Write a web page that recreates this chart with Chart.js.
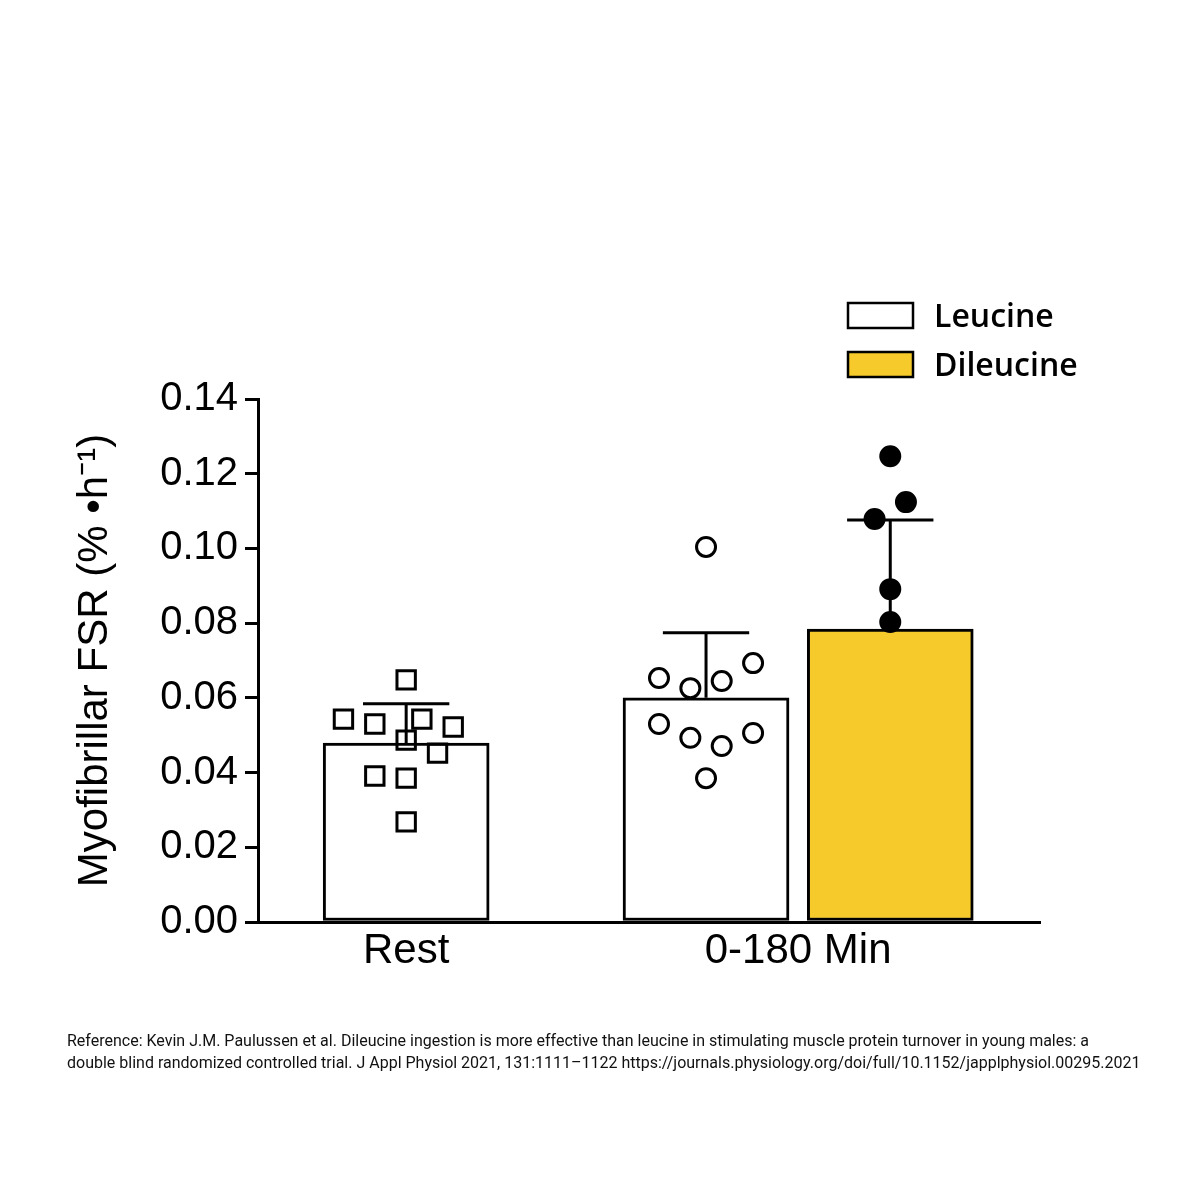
<!DOCTYPE html>
<html>
<head>
<meta charset="utf-8">
<script src="https://cdn.jsdelivr.net/npm/chart.js@4.4.0/dist/chart.umd.min.js"></script>
<style>
  body { margin: 0; background: #fff; }
  #wrap { position: relative; width: 1200px; height: 1200px; }
  #ref {
    position: absolute; left: 67px; top: 1030px;
    font: 16px Roboto, sans-serif; line-height: 22px; color: #111;
    white-space: nowrap;
  }
</style>
</head>
<body>
<div id="wrap">
  <canvas id="fsr-chart" width="1200" height="1200"></canvas>
  <div id="ref">Reference: Kevin J.M. Paulussen et al. Dileucine ingestion is more effective than leucine in stimulating muscle protein turnover in young males: a<br>double blind randomized controlled trial. J Appl Physiol 2021, 131:1111–1122 https://journals.physiology.org/doi/full/10.1152/japplphysiol.00295.2021</div>
</div>
<script>
const categories = ["Rest", "0-180 Min"];
const leucineMean = [0.0479, 0.0600];
const leucineSD = [0.0105, 0.0174];
const dileucineMean = [null, 0.0784];
const dileucineSD = [null, 0.0292];

// individual subjects (jitter in category units)
const restLeucine = [0.0648, 0.0543, 0.0530, 0.0543, 0.0522, 0.0487, 0.0452, 0.0391, 0.0385, 0.0268];
const restLeucineJitter = [0, -0.16, -0.08, 0.04, 0.12, 0, 0.08, -0.08, 0, 0];
const postLeucine = [0.1004, 0.0653, 0.0626, 0.0645, 0.0693, 0.0530, 0.0493, 0.0471, 0.0506, 0.0385];
const postLeucineJitter = [0, -0.12, -0.04, 0.04, 0.12, -0.12, -0.04, 0.04, 0.12, 0];
const postDileucine = [0.1247, 0.1124, 0.1079, 0.0891, 0.0803];
const postDileucineJitter = [0, 0.04, -0.04, 0, 0];

const YELLOW = "#F6CA2A";
const DODGE = 0.235;
const AXIS_FONT = "'Liberation Sans', Arial, sans-serif";

let leucineBars = [], leucineErr = [];
let dileucineBars = [], dileucineErr = [];
categories.forEach((c, i) => {
    let hasDi = dileucineMean[i] != null;
    leucineBars.push({x: i + 1 + (hasDi ? -DODGE : 0), y: leucineMean[i]});
    leucineErr.push(leucineSD[i]);
    if (hasDi) {
        dileucineBars.push({x: i + 1 + DODGE, y: dileucineMean[i]});
        dileucineErr.push(dileucineSD[i]);
    }
});

let errorBars = {
    id: "errorBars",
    afterDatasetDraw(chart, args) {
        let ds = chart.data.datasets[args.index];
        if (!ds.sd) return;
        let ctx = chart.ctx, yScale = chart.scales.y;
        ctx.save();
        ctx.strokeStyle = "#000";
        ctx.lineWidth = 3;
        args.meta.data.forEach((bar, k) => {
            let top = yScale.getPixelForValue(ds.data[k].y + ds.sd[k]);
            let half = bar.width * 0.26;
            ctx.beginPath();
            ctx.moveTo(bar.x, bar.y);
            ctx.lineTo(bar.x, top);
            ctx.moveTo(bar.x - half, top);
            ctx.lineTo(bar.x + half, top);
            ctx.stroke();
        });
        ctx.restore();
    }
};

let legendItems = [
    {label: "Leucine", color: "#fff"},
    {label: "Dileucine", color: YELLOW},
];

let boxLegend = {
    id: "boxLegend",
    afterDraw(chart) {
        let ctx = chart.ctx;
        ctx.save();
        legendItems.forEach((item, k) => {
            let top = 303 + k * 49;
            ctx.fillStyle = item.color;
            ctx.fillRect(848, top, 65, 25);
            ctx.strokeStyle = "#000";
            ctx.lineWidth = 2.5;
            ctx.strokeRect(848, top, 65, 25);
            ctx.fillStyle = "#000";
            ctx.font = "600 32px 'Open Sans', sans-serif";
            ctx.textBaseline = "middle";
            ctx.fillText(item.label, 934, top + 15);
        });
        ctx.restore();
    }
};

let fsrChart = new Chart(document.getElementById("fsr-chart").getContext("2d"), {
    type: "bar",
    data: {
        datasets: [
            {
                label: "Leucine",
                data: leucineBars,
                sd: leucineErr,
                backgroundColor: "#fff",
                borderColor: "#000",
                borderWidth: 3,
                borderSkipped: false,
                order: 2,
            },
            {
                label: "Dileucine",
                data: dileucineBars,
                sd: dileucineErr,
                backgroundColor: YELLOW,
                borderColor: "#000",
                borderWidth: 3,
                borderSkipped: false,
                order: 2,
            },
            {
                type: "scatter",
                label: "Rest leucine",
                data: restLeucine.map((v, k) => ({x: 1 + restLeucineJitter[k], y: v})),
                pointStyle: "rect",
                pointRadius: 13,
                borderWidth: 3,
                borderColor: "#000",
                backgroundColor: "rgba(0,0,0,0)",
                order: 1,
            },
            {
                type: "scatter",
                label: "0-180 leucine",
                data: postLeucine.map((v, k) => ({x: 2 - DODGE + postLeucineJitter[k], y: v})),
                pointStyle: "circle",
                pointRadius: 9.5,
                borderWidth: 3,
                borderColor: "#000",
                backgroundColor: "rgba(0,0,0,0)",
                order: 1,
            },
            {
                type: "scatter",
                label: "0-180 dileucine",
                data: postDileucine.map((v, k) => ({x: 2 + DODGE + postDileucineJitter[k], y: v})),
                pointStyle: "circle",
                pointRadius: 10,
                borderWidth: 2,
                borderColor: "#000",
                backgroundColor: "#000",
                order: 1,
            },
        ],
    },
    options: {
        responsive: false,
        animation: false,
        barThickness: 166,
        grouped: false,
        layout: {
            padding: {left: 0, top: 399, right: 160, bottom: 0},
        },
        plugins: {
            legend: {display: false},
            tooltip: {enabled: false},
        },
        scales: {
            x: {
                type: "linear",
                min: 0.622,
                max: 2.617,
                offset: false,
                afterBuildTicks: (scale) => {
                    scale.ticks = categories.map((c, i) => ({value: i + 1}));
                },
                afterFit: (scale) => { scale.height = 278; },
                grid: {display: false, drawTicks: false, offset: false},
                border: {display: true, color: "#000", width: 3},
                ticks: {
                    callback: (v) => categories[v - 1],
                    color: "#000",
                    font: {family: AXIS_FONT, size: 42},
                    padding: 4,
                    maxRotation: 0,
                    autoSkip: false,
                },
            },
            y: {
                min: 0,
                max: 0.14,
                afterFit: (scale) => { scale.width = 258; },
                grid: {
                    drawOnChartArea: false,
                    tickLength: 13,
                    lineWidth: 3,
                    color: "#000",
                },
                border: {display: true, color: "#000", width: 3},
                ticks: {
                    stepSize: 0.02,
                    callback: (v) => v.toFixed(2),
                    color: "#000",
                    font: {family: AXIS_FONT, size: 40},
                    padding: 7,
                },
                title: {
                    display: true,
                    text: "Myofibrillar FSR (% •h⁻¹)",
                    color: "#000",
                    font: {family: AXIS_FONT, size: 42},
                    padding: {top: 70, bottom: 0},
                },
            },
        },
    },
    plugins: [errorBars, boxLegend],
});
</script>
</body>
</html>
